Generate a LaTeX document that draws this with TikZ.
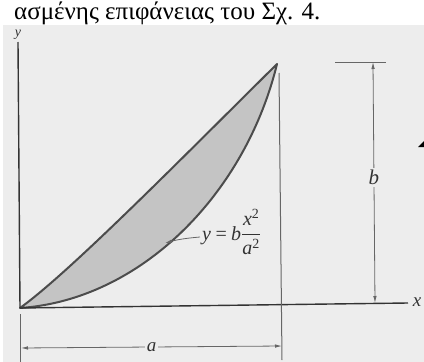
\documentclass[tikz,border=0pt]{standalone}
\usepackage{fontspec}
\usepackage{amsmath}
\setmainfont{Liberation Serif}
\usetikzlibrary{arrows.meta}
\definecolor{bg}{HTML}{EDEDED}
\definecolor{areafill}{HTML}{C4C4C4}
\definecolor{outl}{HTML}{4C4C4C}
\definecolor{axiscol}{HTML}{333333}
\definecolor{dimcol}{HTML}{666666}
\begin{document}
\begin{tikzpicture}[x=1pt,y=-1pt,
  axisline/.style={draw=axiscol, line width=1.4pt},
  curveline/.style={draw=outl, line width=2pt},
  dimline/.style={draw=dimcol, line width=0.8pt},
  dimtip/.style={dimline, {Latex[length=7pt,width=3.5pt]}-{Latex[length=7pt,width=3.5pt]}},
  curvetip/.style={dimline, -{Latex[length=7pt,width=3.5pt]}},
  lbl/.style={font=\fontsize{19}{21}\selectfont\itshape, inner sep=1pt, text=black!80},
  dimlbl/.style={lbl, fill=bg, inner sep=2pt}
]
\useasboundingbox (0,0) rectangle (424,362);
\fill[white] (0,0) rectangle (424,362);
\fill[bg] (3,25) rectangle (424,362);
\node[anchor=base west, inner sep=0pt, font=\fontsize{25}{28}\selectfont] (title) at (14,19) {ασμένης επιφάνειας του Σχ. 4.};

% key points
\coordinate (O) at (20,308);
\coordinate (P) at (277,64);
\coordinate (yend) at (18,42);
\coordinate (xend) at (408,303);
\coordinate (vtop) at (279,73);
\coordinate (vbot) at (282,360);
\coordinate (ltop) at (20,314);
\coordinate (lbot) at (20,362);
\coordinate (aL) at (21,348);
\coordinate (aR) at (282,346);
\coordinate (bL) at (335,62);
\coordinate (bR) at (386,62);
\coordinate (bT) at (373,62);
\coordinate (bB) at (375,303);
\coordinate (onCurve) at (165,243);
\coordinate (eqtail) at (200,237);

% shaded area
\fill[areafill] (O) .. controls (70,272) and (180,160) .. (P)
  .. controls (245,195) and (140,300) .. (O) -- cycle;
\draw[curveline, line join=round] (O) .. controls (70,272) and (180,160) .. (P)
  .. controls (245,195) and (140,300) .. (O) -- cycle;

% axes
\draw[axisline] (O) -- (yend);
\draw[axisline] (O) -- (xend);
\node[lbl, font=\fontsize{14}{15}\selectfont\itshape, inner sep=0pt] (ylab) at (18,35) {y};
\node[lbl] (xlab) at (417,302) {x};

% extension lines
\draw[dimline, line width=1pt] (vtop) -- (vbot);
\draw[dimline] (ltop) -- (lbot);
\draw[dimline, line width=1pt] (bL) -- (bR);

% dimensions
\draw[dimtip] (aL) -- node[dimlbl] (alab) {a} (aR);
\draw[dimtip] (bT) -- node[dimlbl, font=\fontsize{21}{23}\selectfont\itshape, pos=0.48] (blab) {b} (bB);

% equation label
\node[lbl, anchor=base west, inner sep=0pt, font=\fontsize{20}{22}\selectfont\itshape] (eq) at (202,240) {y\,=\,b$\dfrac{\textit{x}^{\textup{2}}}{\textit{a}^{\textup{2}}}$};
\draw[curvetip] (eqtail) to[out=185, in=15] (onCurve);

% fragment of a cut-off character at the right edge
\fill[black] (418,147) -- (424,141) -- (424,147) -- cycle;
\end{tikzpicture}
\end{document}
